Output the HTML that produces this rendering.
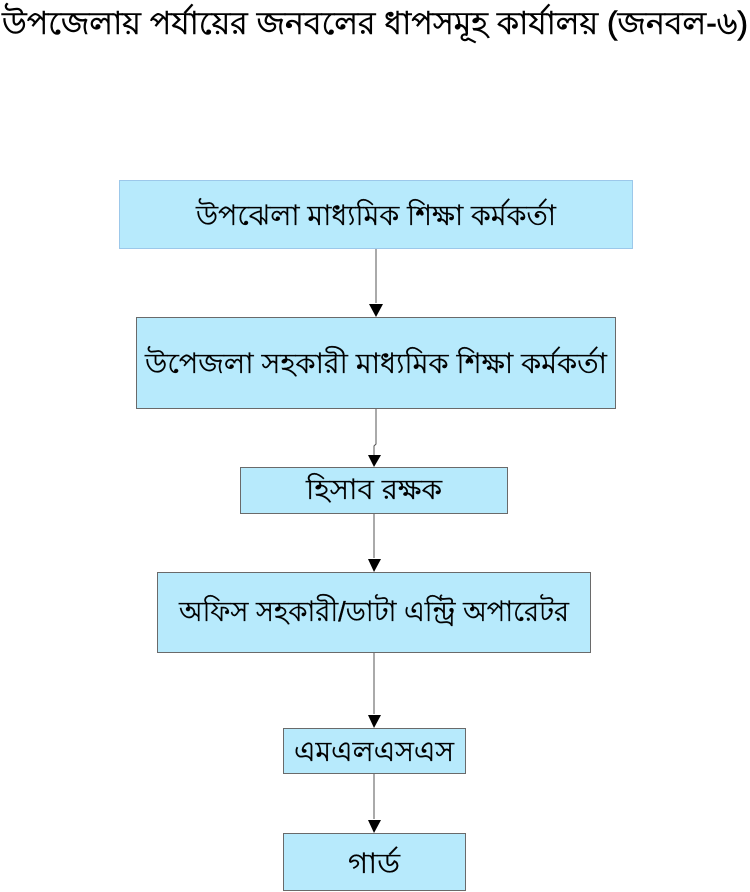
<!DOCTYPE html>
<html><head><meta charset="utf-8"><style>
html,body{margin:0;padding:0;background:#fff;width:750px;height:892px;overflow:hidden}
svg text{font-family:"Liberation Sans","Noto Sans CJK SC",sans-serif;fill:#000}
</style></head><body>
<svg width="750" height="892" viewBox="0 0 750 892" xmlns="http://www.w3.org/2000/svg">
<text x="2" y="34" font-size="32" stroke="#000" stroke-width="0.6" textLength="746" lengthAdjust="spacingAndGlyphs">উপজেলায় পর্যায়ের জনবলের ধাপসমূহ কার্যালয় (জনবল-৬)</text>
<g fill="#b7eafc" stroke="#6a6a6a" stroke-width="1">
<rect x="119.5" y="180.5" width="513" height="68" stroke="#9cc8ea"/>
<rect x="136.5" y="317.5" width="479" height="91"/>
<rect x="240.5" y="467.5" width="267" height="46"/>
<rect x="157.5" y="572.5" width="433" height="80"/>
<rect x="283.5" y="728.5" width="182" height="45"/>
<rect x="283.5" y="833.5" width="182" height="57"/>
</g>
<g stroke="#555" stroke-width="1" fill="none">
<path d="M376 249 V303"/>
<path d="M376 409 V444 L374 446 V456"/>
<path d="M374 514 V558"/>
<path d="M374 653 V714"/>
<path d="M374 774 V819"/>
</g>
<g fill="#000">
<path d="M369 304 L383 304 L376 317Z"/>
<path d="M368 455 L381 455 L374 467Z"/>
<path d="M368 559 L381 559 L374 572Z"/>
<path d="M368 715 L381 715 L374 728Z"/>
<path d="M368 820 L381 820 L374 833Z"/>
</g>
<g font-size="28" text-anchor="middle" stroke="#000" stroke-width="0.3">
<text x="376" y="225" textLength="360" lengthAdjust="spacingAndGlyphs">উপঝেলা মাধ্যমিক শিক্ষা কর্মকর্তা</text>
<text x="376" y="373" textLength="462" lengthAdjust="spacingAndGlyphs">উপেজলা সহকারী মাধ্যমিক শিক্ষা কর্মকর্তা</text>
<text x="374" y="499" textLength="136" lengthAdjust="spacingAndGlyphs">হিসাব রক্ষক</text>
<text x="374" y="621" textLength="390" lengthAdjust="spacingAndGlyphs">অফিস সহকারী/ডাটা এন্ট্রি অপারেটর</text>
<text x="374" y="761" textLength="160" lengthAdjust="spacingAndGlyphs">এমএলএসএস</text>
<text x="374" y="873" textLength="52" lengthAdjust="spacingAndGlyphs">গার্ড</text>
</g>
</svg>
</body></html>
